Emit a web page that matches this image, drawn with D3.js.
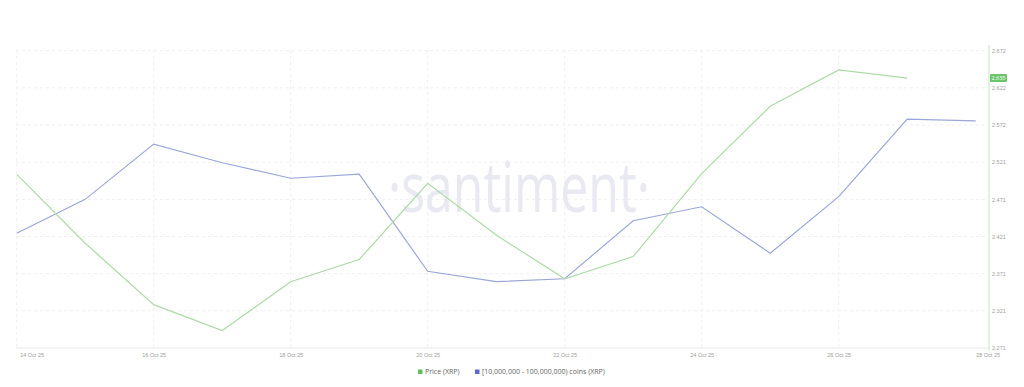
<!DOCTYPE html>
<html>
<head>
<meta charset="utf-8">
<script src="https://cdn.jsdelivr.net/npm/d3@7"></script>
<style>
  body { margin: 0; background: #fff; }
  svg { display: block; font-family: "Open Sans", "DejaVu Sans", sans-serif; }
</style>
</head>
<body>
<div class="chart"></div>
<script>
// CHART SIZE
var w = 1024
var h = 387

// DATA
var days = ['2025-10-14','2025-10-15','2025-10-16','2025-10-17','2025-10-18','2025-10-19','2025-10-20',
            '2025-10-21','2025-10-22','2025-10-23','2025-10-24','2025-10-25','2025-10-26','2025-10-27','2025-10-28']

// price of XRP, last day missing
var price = [2.505, 2.412, 2.329, 2.294, 2.360, 2.390, 2.493, 2.423, 2.364, 2.394, 2.506, 2.597, 2.646, 2.635]

// wallets holding 10M - 100M coins, billions of XRP (hidden axis)
var whales = [7.3386, 7.3500, 7.3686, 7.3623, 7.3571, 7.3585, 7.3258, 7.3223, 7.3233,
              7.3428, 7.3475, 7.3319, 7.3509, 7.3770, 7.3764]

var yTicks = [2.2705, 2.32069, 2.37088, 2.42107, 2.47126, 2.52145, 2.57164, 2.62183, 2.67202]
var yTickLabels = ['2.271', '2.321', '2.371', '2.421', '2.471', '2.521', '2.572', '2.622', '2.672']
var xTickDays = ['2025-10-14','2025-10-16','2025-10-18','2025-10-20','2025-10-22','2025-10-24','2025-10-26','2025-10-28']
var lastPriceLabel = '2.635'

var legendNames = ['Price (XRP)', '[10,000,000 - 100,000,000) coins (XRP)']
var green = '#acdba6'
var blue = '#9ca6da'

var parse = d3.timeParse('%Y-%m-%d')
var fmtDay = d3.timeFormat('%-d %b %y')

var svg = d3.select('.chart').append('svg')
    .attr('width', w)
    .attr('height', h)

// SCALES
var x = d3.scaleTime()
    .domain([parse(days[0]), parse(days[days.length-1])])
    .range([16.7, 975.7])

var y = d3.scaleLinear()
    .domain([yTicks[0], yTicks[yTicks.length-1]])
    .range([348, 50.7])

var yWhale = d3.scaleLinear()
    .domain([7.300, 7.400])
    .range([348, 50.7])

// GRID
var grid = svg.append('g').attr('class','grid')
grid.selectAll('line.hg')
    .data(yTicks.slice(1))
    .enter().append('line')
    .attr('class','hg')
    .attr('x1', 16).attr('x2', 986)
    .attr('y1', function(d){ return y(d) }).attr('y2', function(d){ return y(d) })
    .attr('stroke', '#efefef')
    .attr('stroke-dasharray', '3,3')

grid.selectAll('line.vg')
    .data(xTickDays.slice(0, -1))
    .enter().append('line')
    .attr('class','vg')
    .attr('x1', function(d){ return x(parse(d)) }).attr('x2', function(d){ return x(parse(d)) })
    .attr('y1', 50).attr('y2', 348)
    .attr('stroke', '#efefef')
    .attr('stroke-dasharray', '3,3')

// WATERMARK
svg.append('text')
    .attr('x', 388)
    .attr('y', 212)
    .attr('textLength', 262)
    .attr('lengthAdjust', 'spacingAndGlyphs')
    .style('font-size', '70px')
    .style('fill', '#e8e9f1')
    .text('·santiment·')

// X AXIS
var xAxis = d3.axisBottom(x)
    .tickValues(xTickDays.map(parse))
    .tickSize(0)
    .tickPadding(5)
    .tickFormat(fmtDay)

var gx = svg.append('g')
    .attr('transform', 'translate(0,348)')
    .call(xAxis)
gx.select('.domain').attr('stroke', '#e6e6e6').attr('d', 'M16,0H989')
gx.selectAll('text')
    .style('font-size', '5.5px')
    .style('fill', '#a0a0a0')
    .attr('text-anchor', function(d, i){ return i == 0 ? 'start' : (i == xTickDays.length-1 ? 'start' : 'middle') })
    .attr('dx', function(d, i){ return i == 0 ? 3 : 0 })

// Y AXIS ON THE RIGHT
var yAxis = d3.axisRight(y)
    .tickValues(yTicks)
    .tickSize(0)
    .tickPadding(3)
    .tickFormat(function(d, i){ return yTickLabels[i] })

var gy = svg.append('g')
    .attr('transform', 'translate(989,0)')
    .call(yAxis)
gy.select('.domain').attr('stroke', '#cfe8cc').attr('stroke-width', 1.2).attr('d', 'M0,45V350')
gy.selectAll('text')
    .style('font-size', '5.5px')
    .style('fill', '#a0a0a0')

// LINES
var priceLine = d3.line()
    .x(function(d, i){ return x(parse(days[i])) })
    .y(function(d){ return y(d) })

var whaleLine = d3.line()
    .x(function(d, i){ return x(parse(days[i])) })
    .y(function(d){ return yWhale(d) })

svg.append('path')
    .datum(whales)
    .attr('d', whaleLine)
    .attr('fill', 'none')
    .attr('stroke', blue)
    .attr('stroke-width', 1.2)

svg.append('path')
    .datum(price)
    .attr('d', priceLine)
    .attr('fill', 'none')
    .attr('stroke', green)
    .attr('stroke-width', 1.2)

// LAST PRICE BADGE
var lastY = y(price[price.length-1])
svg.append('rect')
    .attr('x', 990).attr('y', lastY - 4)
    .attr('width', 17).attr('height', 8)
    .attr('rx', 1)
    .attr('fill', '#6cc56d')
svg.append('text')
    .attr('x', 998.5).attr('y', lastY + 2)
    .attr('text-anchor', 'middle')
    .style('font-size', '5.5px')
    .style('fill', '#fff')
    .text(lastPriceLabel)

// LEGEND
var legend = svg.append('g').attr('transform', 'translate(418,372)')
var legendX = [0, 57]
legendNames.forEach(function(name, i){
    legend.append('rect')
        .attr('x', legendX[i]).attr('y', -2.5)
        .attr('width', 4.5).attr('height', 4.5)
        .attr('fill', i == 0 ? '#5cbf62' : '#5b69d6')
    legend.append('text')
        .attr('x', legendX[i] + 7).attr('y', 2.3)
        .style('font-size', '7px')
        .style('fill', '#666')
        .text(name)
})
</script>
</body>
</html>
